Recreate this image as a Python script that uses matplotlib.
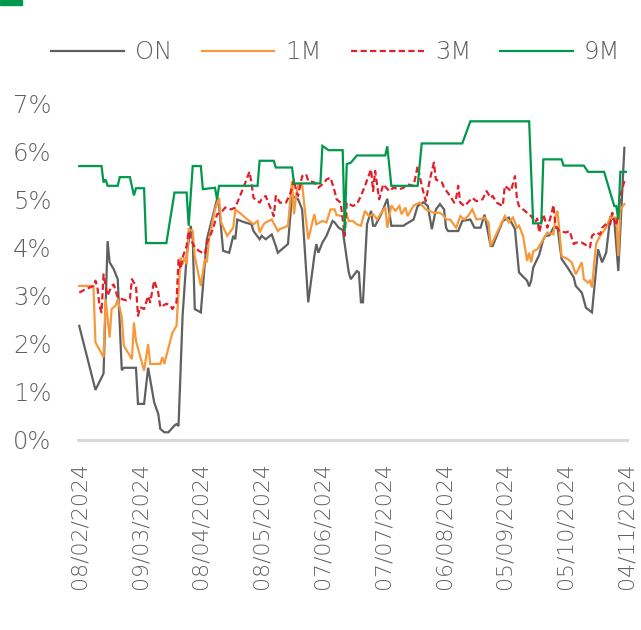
import matplotlib
matplotlib.use("Agg")
import matplotlib.pyplot as plt
import matplotlib.dates as mdates
from matplotlib.ticker import FuncFormatter, FixedLocator
from matplotlib.patches import Rectangle
import pandas as pd

START = "2024-02-08"
tick_labels = ["08/02/2024", "09/03/2024", "08/04/2024", "08/05/2024", "07/06/2024",
               "07/07/2024", "06/08/2024", "05/09/2024", "05/10/2024", "04/11/2024"]
y_ticks = [0, 1, 2, 3, 4, 5, 6, 7]

# days since START, rate in %
on_days = [0, 8, 12, 14, 15, 17, 19, 21, 22, 28, 29, 32, 34, 37, 39, 40, 42, 44, 47, 48, 49, 51, 53, 55,
           56, 57, 60, 62, 63, 68, 69, 71, 74, 76, 77, 78, 81, 85, 86, 89, 90, 92, 95, 97, 98, 103, 105,
           108, 110, 113, 116, 117, 118, 120, 122, 125, 126, 128, 130, 133, 134, 137, 138, 139, 140, 142,
           144, 145, 146, 149, 152, 154, 160, 161, 165, 167, 170, 172, 174, 176, 178, 180, 181, 182, 187,
           189, 193, 195, 198, 200, 203, 204, 209, 212, 215, 217, 221, 222, 223, 224, 227, 229, 230, 232,
           234, 236, 238, 241, 244, 245, 248, 250, 253, 256, 258, 260, 262, 264, 266, 269]
on_vals = [2.37, 1.04, 1.38, 4.13, 3.69, 3.55, 3.34, 1.45, 1.50, 1.50, 0.75, 0.75, 1.50, 0.78, 0.54, 0.23,
           0.16, 0.16, 0.30, 0.33, 0.29, 2.58, 3.82, 4.45, 4.17, 2.72, 2.65, 3.69, 4.17, 5.00, 4.86, 3.93,
           3.89, 4.24, 4.17, 4.58, 4.53, 4.48, 4.34, 4.17, 4.24, 4.17, 4.27, 4.03, 3.89, 4.07, 5.07, 5.00,
           4.79, 2.86, 3.82, 4.07, 3.89, 4.10, 4.24, 4.55, 4.52, 4.41, 4.36, 3.48, 3.34, 3.51, 3.48, 2.86,
           2.86, 4.48, 4.76, 4.45, 4.45, 4.69, 5.01, 4.45, 4.45, 4.48, 4.58, 4.86, 4.94, 4.86, 4.38, 4.79,
           4.90, 4.79, 4.41, 4.34, 4.34, 4.55, 4.58, 4.41, 4.41, 4.68, 4.03, 4.03, 4.55, 4.62, 4.38, 3.48,
           3.31, 3.19, 3.31, 3.58, 3.85, 4.17, 4.24, 4.25, 4.41, 4.41, 3.76, 3.58, 3.38, 3.20, 3.06, 2.75,
           2.65, 3.96, 3.69, 3.89, 4.62, 4.58, 3.51, 6.07]

m1_days = [0, 7, 8, 12, 13, 15, 16, 18, 19, 21, 22, 26, 27, 28, 32, 34, 35, 40, 41, 42, 43, 46, 48, 50,
           51, 52, 53, 54, 56, 57, 60, 62, 63, 64, 67, 69, 70, 73, 76, 77, 80, 83, 86, 88, 89, 91, 92, 95,
           98, 99, 103, 105, 106, 107, 108, 110, 111, 113, 116, 117, 120, 122, 124, 126, 127, 130, 132,
           133, 135, 137, 139, 141, 143, 145, 147, 149, 151, 152, 154, 156, 158, 159, 161, 162, 165, 168,
           171, 175, 178, 180, 181, 183, 186, 188, 190, 192, 194, 196, 199, 200, 202, 203, 210, 212, 214,
           216, 217, 219, 221, 222, 223, 224, 226, 229, 231, 234, 235, 236, 237, 238, 241, 243, 245, 248,
           249, 251, 252, 253, 255, 257, 260, 262, 265, 266, 267, 269]
m1_vals = [3.20, 3.20, 2.03, 1.72, 2.93, 2.13, 2.72, 2.79, 2.93, 2.55, 1.96, 1.68, 2.44, 2.06, 1.44, 1.99,
           1.58, 1.58, 1.72, 1.58, 1.75, 2.23, 2.37, 3.79, 3.65, 3.79, 3.65, 4.38, 4.34, 3.82, 3.20, 3.76,
           3.69, 4.17, 4.79, 5.03, 4.52, 4.24, 4.41, 4.79, 4.69, 4.58, 4.48, 4.55, 4.31, 4.48, 4.52, 4.58,
           4.34, 4.38, 4.45, 5.38, 4.69, 5.07, 5.31, 5.31, 4.90, 4.17, 4.69, 4.48, 4.55, 4.52, 4.79, 4.79,
           4.67, 4.65, 4.69, 4.55, 4.55, 4.48, 4.45, 4.76, 4.65, 4.69, 4.58, 4.72, 4.83, 4.41, 4.87, 4.76,
           4.86, 4.69, 4.83, 4.65, 4.87, 4.93, 4.79, 4.72, 4.72, 4.65, 4.58, 4.58, 4.41, 4.65, 4.58, 4.66,
           4.79, 4.58, 4.60, 4.62, 4.52, 4.03, 4.65, 4.52, 4.62, 4.41, 4.45, 4.24, 3.72, 3.89, 3.69, 3.92,
           3.96, 4.17, 4.31, 4.27, 4.65, 4.76, 4.31, 3.82, 3.76, 3.69, 3.44, 3.69, 3.34, 3.27, 3.31, 3.17,
           4.07, 4.24, 4.41, 4.62, 4.62, 3.82, 4.79, 4.90]

m3_days = [0, 3, 7, 8, 9, 10, 11, 12, 13, 14, 16, 17, 19, 21, 23, 25, 26, 28, 29, 30, 32, 34, 35, 37, 39,
           40, 43, 45, 46, 48, 49, 50, 51, 53, 54, 55, 57, 59, 62, 63, 66, 68, 70, 72, 75, 77, 81, 84, 85,
           86, 89, 90, 92, 94, 96, 97, 99, 102, 104, 106, 107, 108, 110, 112, 113, 116, 118, 121, 122, 124,
           126, 127, 129, 130, 131, 132, 135, 137, 139, 141, 144, 145, 146, 148, 150, 153, 155, 158, 160,
           162, 165, 167, 169, 171, 173, 175, 176, 179, 180, 183, 185, 186, 187, 188, 190, 191, 194, 196,
           199, 201, 203, 204, 206, 209, 210, 212, 213, 215, 216, 217, 221, 223, 225, 226, 227, 229, 231,
           233, 234, 235, 237, 240, 242, 244, 245, 248, 252, 253, 255, 257, 258, 261, 262, 263, 265, 266,
           267, 269]
m3_vals = [3.06, 3.13, 3.20, 3.31, 3.17, 2.79, 2.65, 3.44, 3.20, 3.00, 3.20, 3.23, 2.96, 2.93, 2.90, 2.93,
           3.34, 3.20, 2.58, 2.76, 2.72, 2.99, 2.86, 3.31, 3.06, 2.76, 2.83, 2.79, 2.72, 2.86, 3.76, 3.55,
           3.79, 4.03, 4.34, 4.17, 4.00, 3.93, 3.86, 4.10, 4.38, 4.69, 4.72, 4.83, 4.79, 4.83, 5.24, 5.57,
           5.35, 5.03, 4.93, 5.00, 5.07, 4.86, 4.65, 5.07, 4.93, 4.93, 5.10, 5.41, 5.17, 5.07, 5.48, 5.52,
           5.38, 5.35, 5.24, 5.35, 5.41, 5.45, 5.17, 5.00, 4.93, 4.58, 4.24, 4.93, 4.86, 4.90, 5.07, 5.28,
           5.62, 5.17, 5.59, 5.00, 5.31, 5.17, 5.24, 5.21, 5.24, 5.31, 5.28, 5.69, 5.28, 4.96, 5.41, 5.76,
           5.41, 5.35, 5.24, 5.07, 4.93, 5.03, 5.28, 4.93, 4.86, 4.90, 5.03, 4.96, 5.00, 5.17, 5.03, 5.07,
           4.93, 4.86, 5.28, 5.21, 5.17, 5.48, 5.00, 4.86, 4.72, 4.65, 4.52, 4.60, 4.31, 4.69, 4.41, 4.69,
           4.88, 4.45, 4.34, 4.31, 4.34, 4.07, 4.10, 4.10, 4.00, 4.24, 4.31, 4.27, 4.41, 4.52, 4.48, 4.72,
           4.45, 4.72, 5.07, 5.38]

m9_days = [0, 11, 12, 13, 14, 19, 20, 25, 27, 28, 32, 33, 43, 47, 53, 54, 56, 60, 61, 67, 68, 69, 88, 89,
           96, 97, 105, 106, 119, 120, 123, 130, 131, 132, 134, 137, 151, 152, 154, 167, 169, 189, 193,
           222, 224, 228, 229, 238, 239, 249, 251, 259, 264, 265, 266, 267, 270]
m9_vals = [5.69, 5.69, 5.35, 5.41, 5.28, 5.28, 5.46, 5.46, 5.08, 5.23, 5.23, 4.09, 4.09, 5.14, 5.14, 4.45,
           5.69, 5.69, 5.21, 5.24, 5.00, 5.28, 5.28, 5.80, 5.80, 5.66, 5.66, 5.33, 5.33, 6.11, 6.02, 6.02,
           4.34, 5.73, 5.76, 5.91, 5.91, 6.10, 5.28, 5.28, 6.16, 6.16, 6.62, 6.62, 4.50, 4.50, 5.83, 5.83,
           5.70, 5.70, 5.57, 5.57, 4.86, 4.86, 4.58, 5.57, 5.57]

series = [
    ("ON", on_days, on_vals, "#606060", "-"),
    ("1M", m1_days, m1_vals, "#F7993B", "-"),
    ("3M", m3_days, m3_vals, "#E2202A", (0, (2.8, 1.5))),
    ("9M", m9_days, m9_vals, "#00994C", "-"),
]

TEXT = "#606060"
plt.rcParams["font.family"] = ["DejaVu Sans"]
plt.rcParams["font.weight"] = "light"

fig = plt.figure(figsize=(6.41, 6.30), dpi=100)
ax = fig.add_axes([0.1217, 0.3016, 0.8565, 0.5349])

start = pd.Timestamp(START)
for name, days, vals, color, ls in series:
    dates = start + pd.to_timedelta(days, unit="D")
    ax.plot(dates, vals, color=color, lw=1.6, ls=ls, label=name, solid_joinstyle="miter")

tick_dates = [pd.to_datetime(t, format="%d/%m/%Y") for t in tick_labels]
ax.xaxis.set_major_locator(FixedLocator(mdates.date2num(tick_dates)))
ax.xaxis.set_major_formatter(mdates.DateFormatter("%d/%m/%Y"))
ax.set_xlim(mdates.date2num(tick_dates[0]) - 0.6, mdates.date2num(tick_dates[-1]) + 0.3)
ax.set_ylim(0, 7)
ax.set_yticks(y_ticks)
ax.yaxis.set_major_formatter(FuncFormatter(lambda v, p: f"{v:.0f}%"))

for s in ["top", "right", "left"]:
    ax.spines[s].set_visible(False)
ax.spines["bottom"].set_color("#d9d9d9")
ax.spines["bottom"].set_linewidth(2.2)
ax.tick_params(axis="both", length=0, colors=TEXT)
ax.tick_params(axis="y", pad=19, labelsize=17.5)
ax.tick_params(axis="x", pad=16, rotation=90, labelsize=15.8)

fig.legend(loc="center", bbox_to_anchor=(0.524, 0.917), ncol=4, frameon=False,
           fontsize=17.5, labelcolor=TEXT, handlelength=3.0, handletextpad=0.45,
           columnspacing=1.2)

fig.patches.append(Rectangle((0, 0.992), 0.034, 0.008, transform=fig.transFigure,
                             color="#00994C", zorder=5))

fig.savefig("out.png", dpi=100, facecolor="white")
